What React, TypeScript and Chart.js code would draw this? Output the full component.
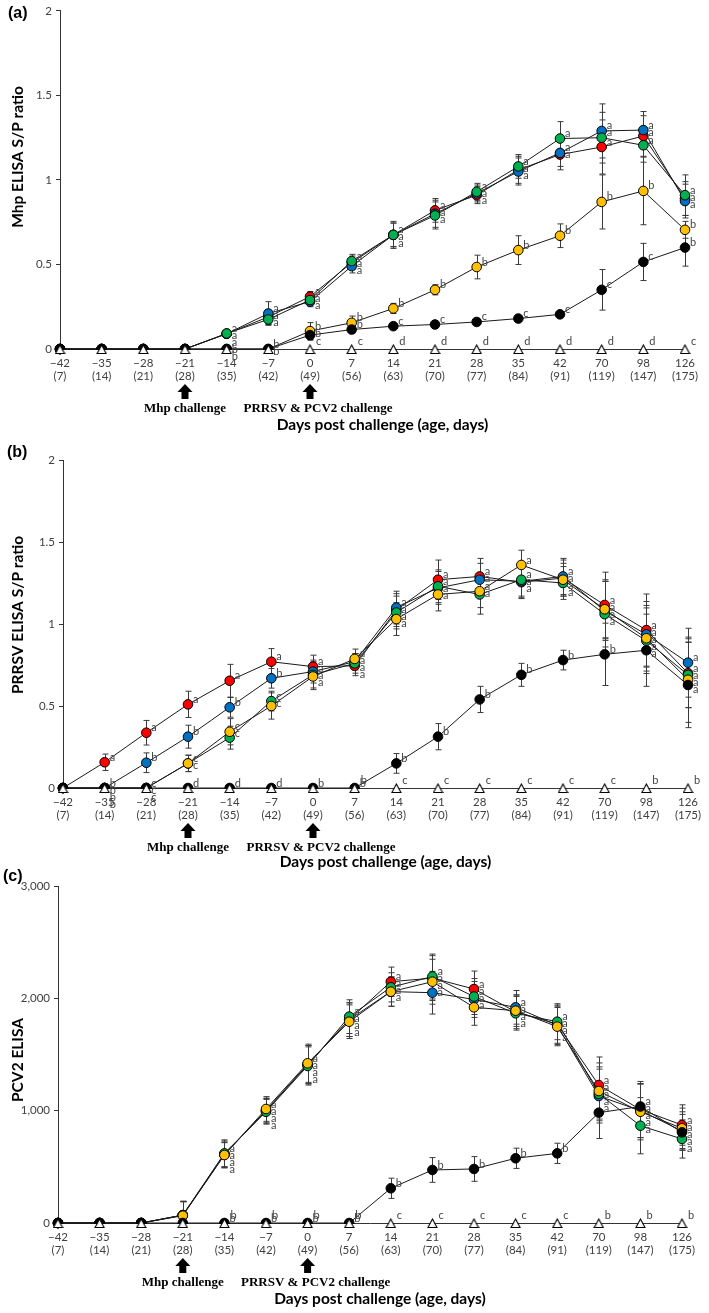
import React, { useEffect, useRef } from 'react';
import { Chart, registerables } from 'chart.js';
Chart.register(...registerables);

// ---------- data ----------
const dayLabels = ['−42', '−35', '−28', '−21', '−14', '−7', '0', '7', '14', '21', '28', '35', '42', '70', '98', '126'];
const ageLabels = ['(7)', '(14)', '(21)', '(28)', '(35)', '(42)', '(49)', '(56)', '(63)', '(70)', '(77)', '(84)', '(91)', '(119)', '(147)', '(175)'];
const negControl = [0, 0, 0, 0, 0, 0, 0, 0, 0, 0, 0, 0, 0, 0, 0, 0];

// Panel (a) Mhp ELISA S/P ratio
const mhpRed = [0, 0, 0, 0, 0.09, 0.19, 0.31, 0.51, 0.675, 0.82, 0.91, 1.06, 1.15, 1.195, 1.26, 0.89];
const mhpBlue = [0, 0, 0, 0, 0.09, 0.21, 0.28, 0.49, 0.675, 0.8, 0.92, 1.05, 1.16, 1.29, 1.295, 0.875];
const mhpGreen = [0, 0, 0, 0, 0.092, 0.175, 0.29, 0.52, 0.675, 0.79, 0.93, 1.08, 1.245, 1.25, 1.205, 0.91];
const mhpYellow = [0, 0, 0, 0, 0, 0, 0.106, 0.155, 0.24, 0.35, 0.485, 0.585, 0.67, 0.87, 0.935, 0.705];
const mhpBlack = [0, 0, 0, 0, 0, 0, 0.082, 0.115, 0.135, 0.145, 0.16, 0.18, 0.205, 0.35, 0.515, 0.6];
const mhpRedErr = [0, 0, 0, 0, 0.01, 0.04, 0.03, 0.04, 0.08, 0.07, 0.05, 0.08, 0.09, 0.16, 0.12, 0.1];
const mhpBlueErr = [0, 0, 0, 0, 0.01, 0.07, 0.03, 0.04, 0.07, 0.08, 0.05, 0.08, 0.08, 0.16, 0.11, 0.1];
const mhpGreenErr = [0, 0, 0, 0, 0.01, 0.03, 0.03, 0.04, 0.07, 0.08, 0.05, 0.07, 0.1, 0.15, 0.1, 0.12];
const mhpYellowErr = [0, 0, 0, 0, 0, 0, 0.05, 0.04, 0.03, 0.03, 0.07, 0.085, 0.07, 0.16, 0.2, 0.05];
const mhpBlackErr = [0, 0, 0, 0, 0, 0, 0.03, 0.02, 0.01, 0.01, 0.01, 0.01, 0.01, 0.12, 0.11, 0.11];
const mhpLetA = ['', '', '', '', 'a', 'a', 'a', 'a', 'a', 'a', 'a', 'a', 'a', 'a', 'a', 'a'];
const mhpLetYellow = ['', '', '', '', 'b', 'b', 'b', 'b', 'b', 'b', 'b', 'b', 'b', 'b', 'b', 'b'];
const mhpLetBlack = ['', '', '', '', 'b', 'b', 'b', 'b', 'c', 'c', 'c', 'c', 'c', 'c', 'c', 'b'];
const mhpLetNeg = ['', '', '', '', '', '', 'c', 'c', 'd', 'd', 'd', 'd', 'd', 'd', 'd', 'c'];

// Panel (b) PRRSV ELISA S/P ratio
const prrsvRed = [0, 0.157, 0.337, 0.51, 0.654, 0.77, 0.74, 0.745, 1.085, 1.27, 1.29, 1.255, 1.28, 1.116, 0.963, 0.7];
const prrsvBlue = [0, 0, 0.154, 0.313, 0.492, 0.669, 0.71, 0.77, 1.1, 1.22, 1.27, 1.26, 1.29, 1.08, 0.937, 0.764];
const prrsvGreen = [0, 0, 0, 0.15, 0.307, 0.53, 0.69, 0.76, 1.07, 1.23, 1.18, 1.27, 1.25, 1.06, 0.898, 0.69];
const prrsvYellow = [0, 0, 0, 0.15, 0.343, 0.5, 0.68, 0.787, 1.03, 1.18, 1.2, 1.36, 1.27, 1.09, 0.913, 0.66];
const prrsvBlack = [0, 0, 0, 0, 0, 0, 0, 0, 0.15, 0.313, 0.54, 0.69, 0.78, 0.815, 0.84, 0.628];
const prrsvRedErr = [0, 0.05, 0.075, 0.08, 0.1, 0.08, 0.07, 0.06, 0.1, 0.12, 0.11, 0.1, 0.11, 0.2, 0.22, 0.21];
const prrsvBlueErr = [0, 0, 0.06, 0.07, 0.06, 0.06, 0.07, 0.05, 0.1, 0.1, 0.1, 0.1, 0.11, 0.18, 0.2, 0.21];
const prrsvGreenErr = [0, 0, 0, 0.05, 0.07, 0.06, 0.08, 0.06, 0.1, 0.1, 0.12, 0.1, 0.1, 0.2, 0.2, 0.2];
const prrsvYellowErr = [0, 0, 0, 0.05, 0.08, 0.08, 0.08, 0.06, 0.1, 0.1, 0.1, 0.09, 0.1, 0.18, 0.2, 0.26];
const prrsvBlackErr = [0, 0, 0, 0, 0, 0, 0, 0, 0.06, 0.08, 0.08, 0.07, 0.06, 0.19, 0.22, 0.26];
const prrsvLetRed = ['', 'a', 'a', 'a', 'a', 'a', 'a', 'a', 'a', 'a', 'a', 'a', 'a', 'a', 'a', 'a'];
const prrsvLetBlue = ['', 'b', 'b', 'b', 'b', 'b', 'a', 'a', 'a', 'a', 'a', 'a', 'a', 'a', 'a', 'a'];
const prrsvLetGreen = ['', 'b', 'c', 'c', 'c', 'c', 'a', 'a', 'a', 'a', 'a', 'a', 'a', 'a', 'a', 'a'];
const prrsvLetYellow = ['', 'b', 'c', 'c', 'c', 'c', 'a', 'a', 'a', 'a', 'a', 'a', 'a', 'a', 'a', 'a'];
const prrsvLetBlack = ['', 'b', 'c', 'd', 'd', 'd', 'b', 'b', 'b', 'b', 'b', 'b', 'b', 'b', 'a', 'a'];
const prrsvLetNeg = ['', '', '', '', '', '', '', 'b', 'c', 'c', 'c', 'c', 'c', 'c', 'b', 'b'];

// Panel (c) PCV2 ELISA
const pcvRed = [0, 0, 0, 70, 610, 1000, 1410, 1810, 2148, 2180, 2083, 1880, 1770, 1228, 1010, 872];
const pcvBlue = [0, 0, 0, 70, 610, 1000, 1410, 1810, 2060, 2050, 1990, 1920, 1760, 1130, 1000, 820];
const pcvGreen = [0, 0, 0, 70, 620, 990, 1398, 1837, 2098, 2194, 2016, 1867, 1792, 1150, 866, 748];
const pcvYellow = [0, 0, 0, 65, 605, 1015, 1422, 1792, 2059, 2148, 1920, 1890, 1748, 1175, 990, 843];
const pcvBlack = [0, 0, 0, 0, 0, 0, 0, 0, 309, 472, 481, 576, 620, 982, 1037, 807];
const pcvRedErr = [0, 0, 0, 120, 120, 110, 170, 150, 130, 200, 160, 150, 170, 250, 250, 180];
const pcvBlueErr = [0, 0, 0, 120, 110, 110, 170, 150, 130, 190, 160, 150, 170, 240, 240, 170];
const pcvGreenErr = [0, 0, 0, 120, 120, 110, 170, 150, 130, 200, 160, 150, 160, 240, 250, 170];
const pcvYellowErr = [0, 0, 0, 130, 110, 110, 170, 150, 130, 200, 160, 140, 170, 250, 250, 180];
const pcvBlackErr = [0, 0, 0, 0, 0, 0, 0, 0, 90, 110, 110, 90, 90, 230, 200, 160];
const pcvLetA = ['', '', '', '', 'a', 'a', 'a', 'a', 'a', 'a', 'a', 'a', 'a', 'a', 'a', 'a'];
const pcvLetBlack = ['', '', '', '', 'b', 'b', 'b', 'b', 'b', 'b', 'b', 'b', 'b', 'a', 'a', 'a'];
const pcvLetNeg = ['', '', '', '', 'b', 'b', 'b', 'b', 'c', 'c', 'c', 'c', 'c', 'b', 'b', 'b'];

// ---------- styles ----------
const RED = '#FF0000';
const BLUE = '#0070C0';
const GREEN = '#00B050';
const YELLOW = '#FFC000';
const BLACK = '#000000';
const SANS = 'Lato, "Open Sans", sans-serif';
const SERIF = '"Liberation Serif", "DejaVu Serif", serif';
const W = 709;

type Series = { color: string; values: number[]; err: number[]; letters: string[]; order: number };
type Panel = {
  tag: string; yTitle: string; yMax: number; yStep: number; fmt: (v: number) => string;
  top: number; height: number; areaTop: number; areaBottom: number; areaLeft: number; areaRight: number;
  labelY: number; labelX: number; yTitleY: number; daysDy: number;
  series: Series[]; negLetters: string[];
};

const fmtRatio = (v: number) => String(Math.round(v * 10) / 10);
const fmtThousand = (v: number) => v.toLocaleString('en-US');

const panels: Panel[] = [
  {
    tag: '(a)', yTitle: 'Mhp ELISA S/P ratio', yMax: 2, yStep: 0.5, fmt: fmtRatio,
    top: 0, height: 440, areaTop: 9, areaBottom: 349, areaLeft: 60, areaRight: 685,
    labelY: 14, labelX: 8, yTitleY: 157, daysDy: 76,
    series: [
      { color: RED, values: mhpRed, err: mhpRedErr, letters: mhpLetA, order: 5 },
      { color: BLUE, values: mhpBlue, err: mhpBlueErr, letters: mhpLetA, order: 4 },
      { color: GREEN, values: mhpGreen, err: mhpGreenErr, letters: mhpLetA, order: 2 },
      { color: YELLOW, values: mhpYellow, err: mhpYellowErr, letters: mhpLetYellow, order: 3 },
      { color: BLACK, values: mhpBlack, err: mhpBlackErr, letters: mhpLetBlack, order: 1 },
    ],
    negLetters: mhpLetNeg,
  },
  {
    tag: '(b)', yTitle: 'PRRSV ELISA S/P ratio', yMax: 2, yStep: 0.5, fmt: fmtRatio,
    top: 440, height: 430, areaTop: 20, areaBottom: 348, areaLeft: 63, areaRight: 688,
    labelY: 13, labelX: 7, yTitleY: 175, daysDy: 74,
    series: [
      { color: RED, values: prrsvRed, err: prrsvRedErr, letters: prrsvLetRed, order: 5 },
      { color: BLUE, values: prrsvBlue, err: prrsvBlueErr, letters: prrsvLetBlue, order: 4 },
      { color: GREEN, values: prrsvGreen, err: prrsvGreenErr, letters: prrsvLetGreen, order: 3 },
      { color: YELLOW, values: prrsvYellow, err: prrsvYellowErr, letters: prrsvLetYellow, order: 2 },
      { color: BLACK, values: prrsvBlack, err: prrsvBlackErr, letters: prrsvLetBlack, order: 1 },
    ],
    negLetters: prrsvLetNeg,
  },
  {
    tag: '(c)', yTitle: 'PCV2 ELISA', yMax: 3000, yStep: 1000, fmt: fmtThousand,
    top: 868, height: 445, areaTop: 18, areaBottom: 355, areaLeft: 58, areaRight: 682,
    labelY: 9, labelX: 3, yTitleY: 192, daysDy: 76,
    series: [
      { color: RED, values: pcvRed, err: pcvRedErr, letters: pcvLetA, order: 5 },
      { color: BLUE, values: pcvBlue, err: pcvBlueErr, letters: pcvLetA, order: 4 },
      { color: GREEN, values: pcvGreen, err: pcvGreenErr, letters: pcvLetA, order: 3 },
      { color: YELLOW, values: pcvYellow, err: pcvYellowErr, letters: pcvLetA, order: 2 },
      { color: BLACK, values: pcvBlack, err: pcvBlackErr, letters: pcvLetBlack, order: 1 },
    ],
    negLetters: pcvLetNeg,
  },
];

function triangleImage(): HTMLCanvasElement {
  const c = document.createElement('canvas');
  c.width = 11;
  c.height = 10;
  const g = c.getContext('2d') as CanvasRenderingContext2D;
  g.beginPath();
  g.moveTo(5.5, 1);
  g.lineTo(10, 9.5);
  g.lineTo(1, 9.5);
  g.closePath();
  g.fillStyle = '#fff';
  g.fill();
  g.strokeStyle = '#000';
  g.lineWidth = 1.1;
  g.stroke();
  return c;
}

function drawArrow(ctx: CanvasRenderingContext2D, x: number, y0: number) {
  ctx.beginPath();
  ctx.moveTo(x, y0);
  ctx.lineTo(x + 7.5, y0 + 8);
  ctx.lineTo(x + 3.5, y0 + 8);
  ctx.lineTo(x + 3.5, y0 + 15);
  ctx.lineTo(x - 3.5, y0 + 15);
  ctx.lineTo(x - 3.5, y0 + 8);
  ctx.lineTo(x - 7.5, y0 + 8);
  ctx.closePath();
  ctx.fillStyle = '#000';
  ctx.fill();
}

function makePlugin(p: Panel) {
  return {
    id: 'panelDeco',
    beforeDatasetsDraw(chart: any) {
      const ctx = chart.ctx as CanvasRenderingContext2D;
      const xs = chart.scales.x;
      const ys = chart.scales.y;
      ctx.save();
      ctx.strokeStyle = '#3a3a3a';
      ctx.lineWidth = 1;
      p.series.forEach((s) => {
        s.values.forEach((v, j) => {
          const e = s.err[j];
          if (!e) return;
          const x = Math.round(xs.getPixelForValue(j)) + 0.5;
          const yt = ys.getPixelForValue(v + e);
          const yb = ys.getPixelForValue(Math.max(0, v - e));
          ctx.beginPath();
          ctx.moveTo(x, yt);
          ctx.lineTo(x, yb);
          ctx.moveTo(x - 3, yt);
          ctx.lineTo(x + 3, yt);
          ctx.moveTo(x - 3, yb);
          ctx.lineTo(x + 3, yb);
          ctx.stroke();
        });
      });
      ctx.restore();
    },
    afterDatasetDraw(chart: any, args: any) {
      // after the last coloured series: hide the lower half of markers sitting on the axis
      if (chart.data.datasets[args.index].order !== 1) return;
      const ctx = chart.ctx as CanvasRenderingContext2D;
      const area = chart.chartArea;
      ctx.save();
      ctx.fillStyle = '#fff';
      ctx.fillRect(area.left + 1, area.bottom + 1, area.right - area.left + 8, 6);
      ctx.restore();
    },
    afterDraw(chart: any) {
      const ctx = chart.ctx as CanvasRenderingContext2D;
      const xs = chart.scales.x;
      const ys = chart.scales.y;
      const area = chart.chartArea;
      ctx.save();
      // significance letters
      ctx.font = `11px ${SANS}`;
      ctx.fillStyle = '#444';
      ctx.textAlign = 'left';
      ctx.textBaseline = 'middle';
      for (let j = 0; j < dayLabels.length; j++) {
        const items: { y: number; t: string }[] = [];
        p.series.forEach((s) => {
          if (s.letters[j]) items.push({ y: ys.getPixelForValue(s.values[j]), t: s.letters[j] });
        });
        items.sort((a, b) => a.y - b.y);
        let prev = -1e9;
        const x = xs.getPixelForValue(j) + 5;
        items.forEach((it) => {
          const y = Math.max(prev + 7, it.y - 5);
          ctx.fillText(it.t, x, y);
          prev = y;
        });
        if (p.negLetters[j]) {
          ctx.fillText(p.negLetters[j], x + 1, ys.getPixelForValue(0) - 8);
        }
      }
      // panel tag
      ctx.fillStyle = '#000';
      ctx.font = `bold 16px "Liberation Sans", Arial, sans-serif`;
      ctx.textBaseline = 'middle';
      ctx.textAlign = 'left';
      ctx.fillText(p.tag, p.labelX, p.labelY);
      // y title
      ctx.save();
      ctx.translate(18, p.yTitleY);
      ctx.rotate(-Math.PI / 2);
      ctx.textAlign = 'center';
      ctx.font = `bold 15.5px ${SANS}`;
      ctx.fillText(p.yTitle, 0, 0);
      ctx.restore();
      // arrows and challenge labels
      const b = area.bottom;
      const xMhp = xs.getPixelForValue(3);
      const xPr = xs.getPixelForValue(6);
      drawArrow(ctx, xMhp, b + 35);
      drawArrow(ctx, xPr, b + 35);
      ctx.font = `bold 13px ${SERIF}`;
      ctx.textAlign = 'center';
      ctx.fillText('Mhp challenge', xMhp, b + 60);
      ctx.fillText('PRRSV & PCV2 challenge', xPr + 8, b + 60);
      ctx.font = `bold 15.5px ${SANS}`;
      ctx.fillText('Days post challenge (age, days)', (area.left + area.right) / 2 + 10, b + p.daysDy);
      ctx.restore();
    },
  };
}

function PanelChart({ p }: { p: Panel }) {
  const ref = useRef<HTMLCanvasElement | null>(null);
  useEffect(() => {
    if (!ref.current) return;
    const tri = triangleImage();
    const datasets: any[] = p.series.map((s) => ({
      data: s.values,
      borderColor: '#1a1a1a',
      borderWidth: 1,
      pointStyle: 'circle',
      pointBackgroundColor: s.color,
      pointBorderColor: '#000',
      pointBorderWidth: 1,
      pointRadius: 4.8,
      pointHoverRadius: 4.8,
      fill: false,
      tension: 0,
      clip: false,
      order: s.order,
    }));
    datasets.push({
      data: negControl,
      showLine: false,
      pointStyle: tri,
      pointRadius: 5,
      pointHoverRadius: 5,
      clip: false,
      order: 0,
    });
    const xAxisH = 36;
    const chart = new Chart(ref.current, {
      type: 'line',
      data: { labels: dayLabels.map((d, i) => [d, ageLabels[i]]), datasets },
      plugins: [makePlugin(p)],
      options: {
        animation: false,
        responsive: false,
        maintainAspectRatio: false,
        devicePixelRatio: 1,
        events: [],
        layout: { padding: { top: p.areaTop, right: W - p.areaRight, bottom: p.height - p.areaBottom - xAxisH, left: 0 } },
        plugins: { legend: { display: false }, tooltip: { enabled: false }, title: { display: false } },
        scales: {
          x: {
            type: 'category',
            offset: false,
            grid: { display: false, drawTicks: false },
            border: { display: true, color: '#333', width: 1 },
            ticks: { color: '#404040', font: { family: SANS, size: 11.5 }, padding: 7, maxRotation: 0, autoSkip: false },
            afterFit: (s: any) => { s.height = xAxisH; },
          },
          y: {
            min: 0,
            max: p.yMax,
            ticks: { stepSize: p.yStep, color: '#404040', font: { family: SANS, size: 11.5 }, padding: 4, callback: (v: any) => p.fmt(Number(v)) },
            grid: { display: true, drawOnChartArea: false, drawTicks: true, tickLength: 4, color: '#333' },
            border: { display: true, color: '#333', width: 1 },
            afterFit: (s: any) => { s.width = p.areaLeft; },
          },
        },
      } as any,
    });
    return () => chart.destroy();
  }, [p]);
  return (
    <canvas
      ref={ref}
      width={W}
      height={p.height}
      style={{ position: 'absolute', left: 0, top: p.top, width: W, height: p.height }}
    />
  );
}

export default function App() {
  return (
    <div style={{ position: 'absolute', left: 0, top: 0, width: W, height: 1313, background: '#fff' }}>
      {panels.map((p) => (
        <PanelChart key={p.tag} p={p} />
      ))}
    </div>
  );
}
